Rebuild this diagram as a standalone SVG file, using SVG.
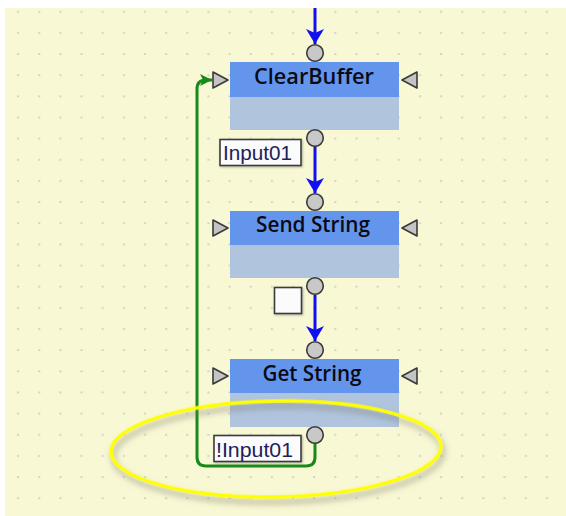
<svg xmlns="http://www.w3.org/2000/svg" width="566" height="516" viewBox="0 0 566 516">
<defs>
<pattern id="dots" patternUnits="userSpaceOnUse" x="7.4" y="1.1" width="21.15" height="21.15">
<rect x="9.6" y="9.8" width="2.2" height="1.8" fill="#d2d2ce"/>
</pattern>
<marker id="blueHead" markerUnits="userSpaceOnUse" markerWidth="18" markerHeight="20" refX="15" refY="9" orient="auto">
<path d="M0,0 L15,9 L0,18 L4,9 Z" fill="#1010f0"/>
</marker>
<marker id="greenHead" markerUnits="userSpaceOnUse" markerWidth="14" markerHeight="12" refX="12" refY="6" orient="auto">
<path d="M0,0 L12,6 L0,12 L3,6 Z" fill="#178a17"/>
</marker>
<filter id="shadow" x="-20%" y="-30%" width="140%" height="170%">
<feDropShadow dx="2" dy="5" stdDeviation="3" flood-color="#707060" flood-opacity="0.6"/>
</filter>
<filter id="lblShadow" x="-10%" y="-10%" width="130%" height="140%">
<feDropShadow dx="1" dy="1" stdDeviation="0.8" flood-color="#808080" flood-opacity="0.6"/>
</filter>
</defs>
<style>
.hdr{fill:#6495ed}
.body{fill:#b0c4de}
.title{font-family:"Open Sans","Liberation Sans",Arial,sans-serif;font-weight:600;font-size:21px;fill:#0a0a14;text-anchor:middle}
.port{fill:#c8c8c8;stroke:#3a3a3a;stroke-width:1.6}
.tri{fill:#c4c4c4;stroke:#3a3a3a;stroke-width:1.6;stroke-linejoin:round}
.lbl{fill:#fbfbfb;stroke:#3a3a3a;stroke-width:1.6}
.lbltext{font-family:"Liberation Sans",Arial,sans-serif;font-size:20px;fill:#22205a}
.blue{stroke:#1010f0;stroke-width:3;fill:none}
.green{stroke:#178a17;stroke-width:3;fill:none}
</style>
<rect x="0" y="0" width="566" height="516" fill="#ffffff"/>
<rect x="5" y="8" width="561" height="508" fill="#f8f8d4"/>
<rect x="5" y="8" width="561" height="508" fill="url(#dots)"/>

<g id="connectors">
<line class="blue" x1="315" y1="8" x2="315" y2="44" marker-end="url(#blueHead)"/>
<line class="blue" x1="315" y1="146" x2="315" y2="193" marker-end="url(#blueHead)"/>
<line class="blue" x1="315" y1="295" x2="315" y2="341" marker-end="url(#blueHead)"/>
<path class="green" d="M315,443 L315,457 Q315,466 306,466 L206,466 Q197,466 197,457 L197,89 Q197,80 206,80 L212,80" marker-end="url(#greenHead)"/>
</g>

<g id="ClearBuffer">
<rect class="hdr" x="230" y="62" width="169" height="35"/>
<rect class="body" x="230" y="97" width="169" height="33"/>
<text class="title" x="314" y="84" textLength="120" lengthAdjust="spacingAndGlyphs">ClearBuffer</text>
<circle class="port" cx="315" cy="53" r="8.3"/>
<circle class="port" cx="315" cy="138" r="8.3"/>
<path class="tri" d="M213,72 L228,80 L213,88 Z"/>
<path class="tri" d="M417,72 L402,80 L417,88 Z"/>
</g>

<g id="SendString">
<rect class="hdr" x="230" y="211" width="169" height="34"/>
<rect class="body" x="230" y="245" width="169" height="33"/>
<text class="title" x="313" y="232" textLength="114" lengthAdjust="spacingAndGlyphs">Send String</text>
<circle class="port" cx="315" cy="202" r="8.3"/>
<circle class="port" cx="315" cy="286" r="8.3"/>
<path class="tri" d="M213,220 L228,228 L213,236 Z"/>
<path class="tri" d="M417,220 L402,228 L417,236 Z"/>
</g>

<g id="GetString">
<rect class="hdr" x="230" y="359" width="169" height="34"/>
<rect class="body" x="230" y="393" width="169" height="34"/>
<text class="title" x="312" y="381" textLength="99" lengthAdjust="spacingAndGlyphs">Get String</text>
<circle class="port" cx="315" cy="350" r="8.3"/>
<circle class="port" cx="315" cy="435" r="8.3"/>
<path class="tri" d="M213,368 L228,376 L213,384 Z"/>
<path class="tri" d="M417,368 L402,376 L417,384 Z"/>
</g>

<g id="label-input01">
<rect class="lbl" x="220" y="139.5" width="81" height="26" filter="url(#lblShadow)"/>
<text class="lbltext" x="223" y="160" textLength="69" lengthAdjust="spacingAndGlyphs">Input01</text>
</g>

<g id="label-empty">
<rect class="lbl" x="274.5" y="287.5" width="27" height="26" fill="#f0f0f0" filter="url(#lblShadow)"/>
</g>

<g id="label-notinput01">
<rect class="lbl" x="214" y="435.5" width="87" height="26" filter="url(#lblShadow)"/>
<text class="lbltext" x="216" y="456.5" textLength="77" lengthAdjust="spacingAndGlyphs">!Input01</text>
</g>

<g id="highlight">
<ellipse cx="276" cy="449" rx="165" ry="48" fill="none" stroke="#ffff00" stroke-width="3.5" filter="url(#shadow)" transform="rotate(-1 276 449)"/>
</g>
</svg>
